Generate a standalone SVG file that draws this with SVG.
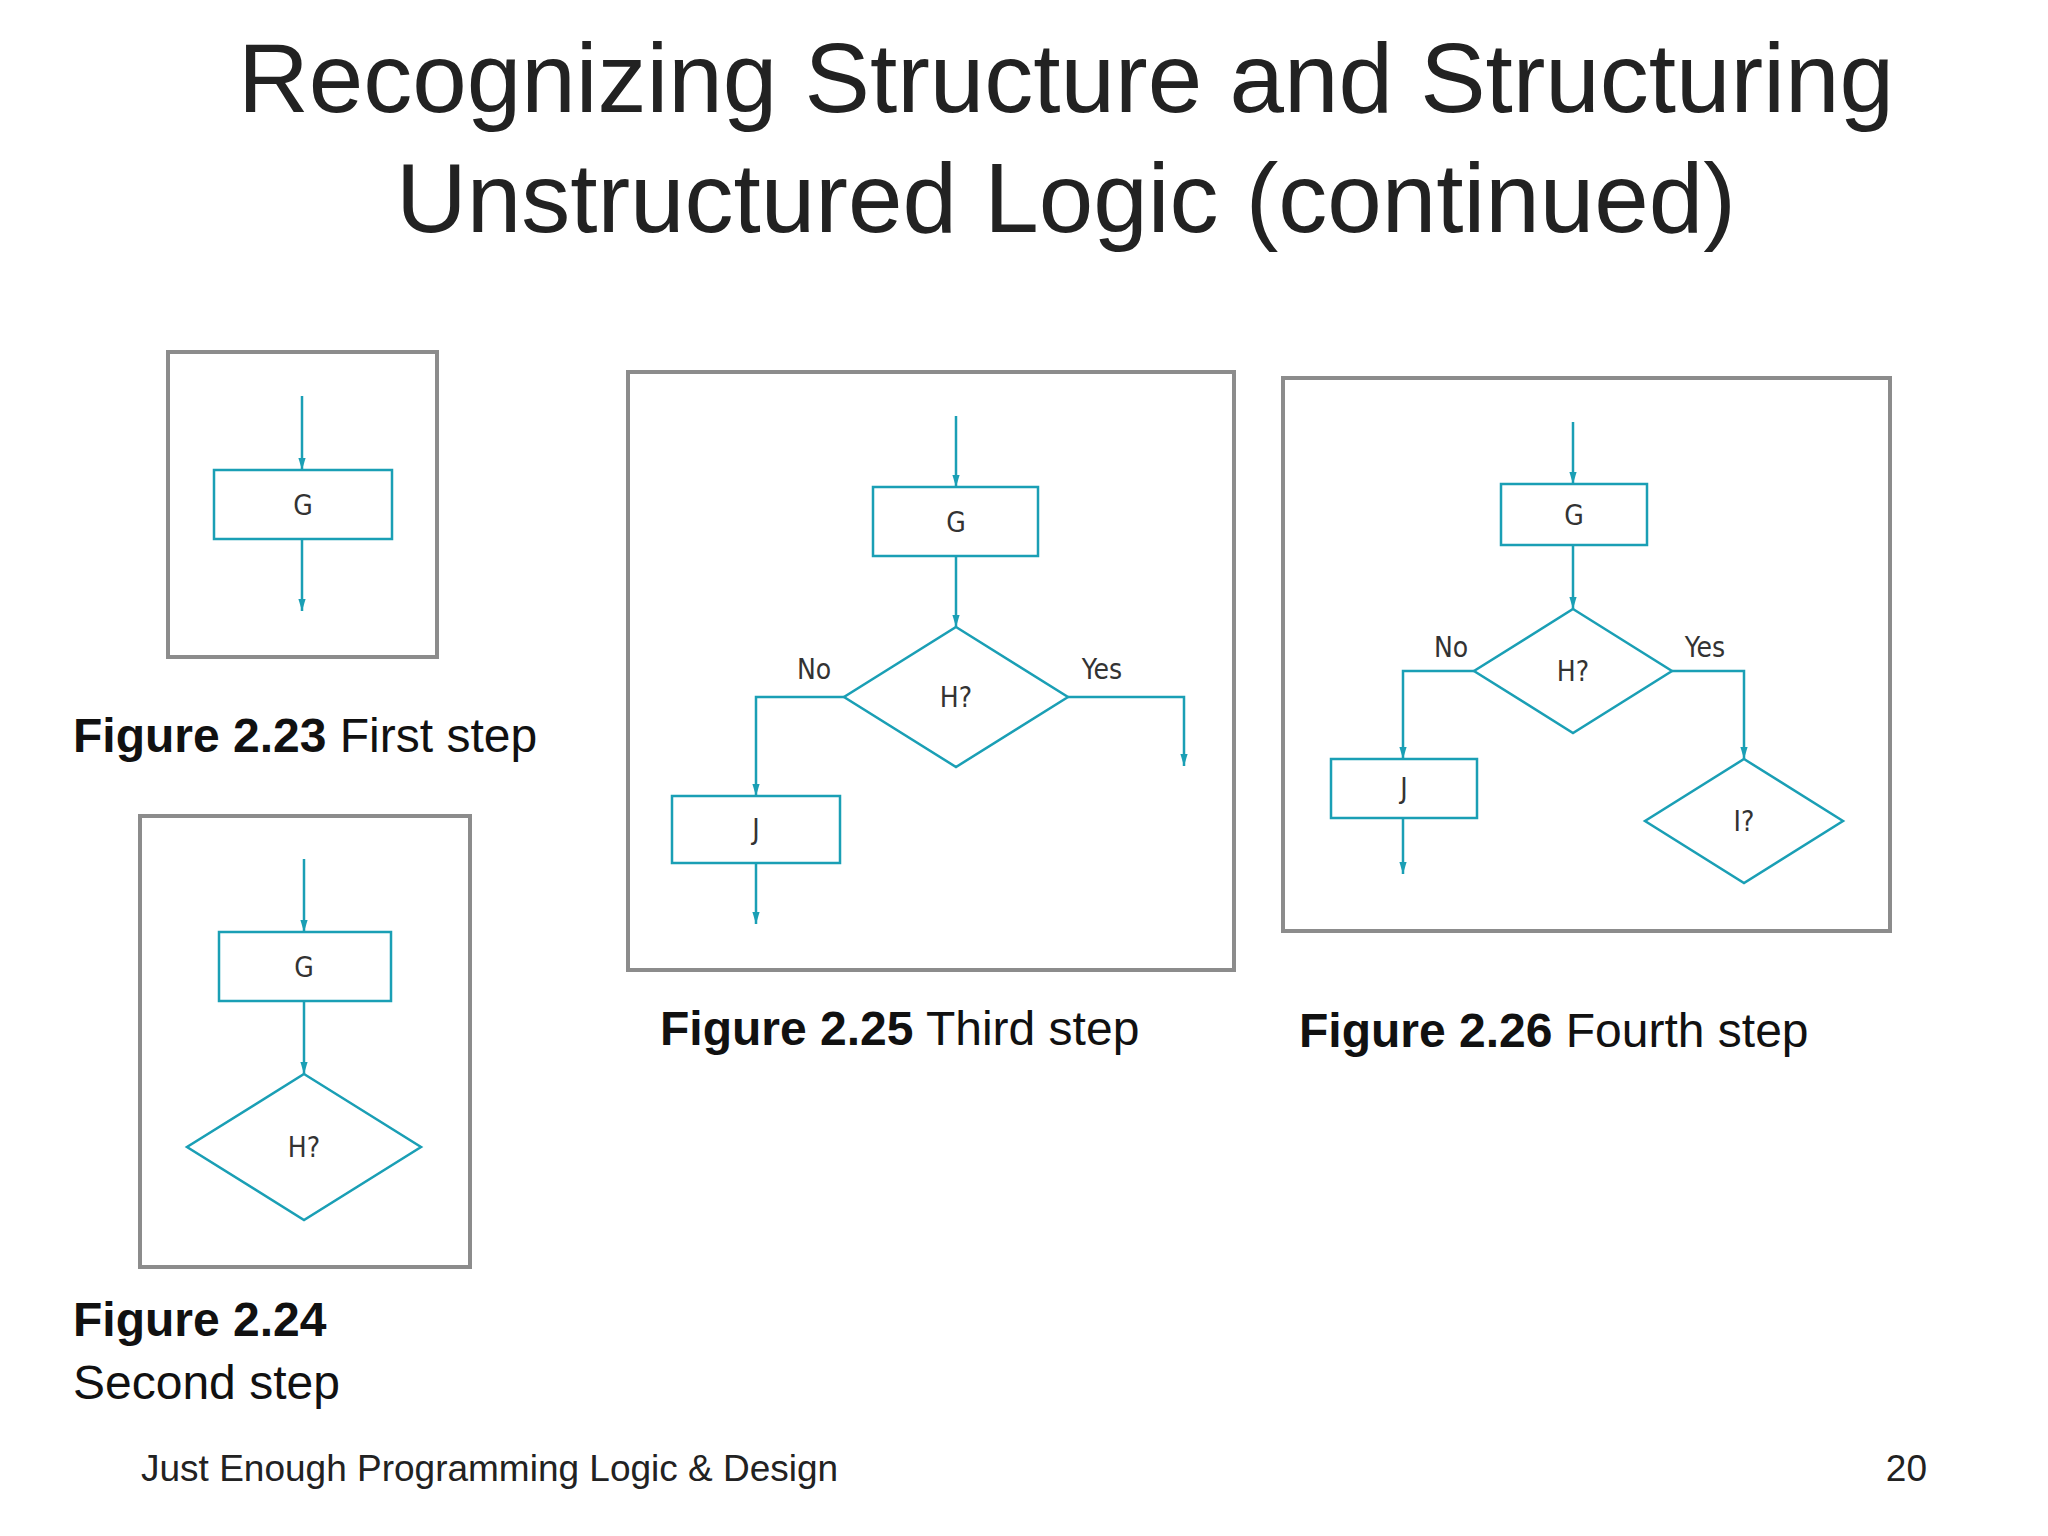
<svg xmlns="http://www.w3.org/2000/svg" width="2048" height="1536" viewBox="0 0 2048 1536">
<defs>
<marker id="ah" viewBox="0 0 10 10" refX="10" refY="5" markerWidth="12" markerHeight="12" markerUnits="userSpaceOnUse" orient="auto">
<path d="M0,2 L10,5 L0,8 Z" fill="#1a9fb5"/>
</marker>
<style>
.frame{fill:none;stroke:#8c8c8c;stroke-width:4}
.sh{fill:#fff;stroke:#1a9fb5;stroke-width:2.5}
.ln{fill:none;stroke:#1a9fb5;stroke-width:2.5;marker-end:url(#ah)}
.ft{font-family:"DejaVu Sans Condensed","DejaVu Sans",sans-serif;font-stretch:condensed;font-size:28px;fill:#333;text-anchor:middle;dominant-baseline:central}
.title{font-family:"Liberation Sans",Arial,sans-serif;font-size:98px;fill:#222;text-anchor:middle}
.cap{font-family:"Liberation Sans",Arial,sans-serif;font-size:48px;fill:#111}
.b{font-weight:bold}
.foot{font-family:"Liberation Sans",Arial,sans-serif;font-size:37px;fill:#222}
</style>
</defs>
<rect width="2048" height="1536" fill="#fff"/>
<text class="title" x="1066" y="112">Recognizing Structure and Structuring</text>
<text class="title" x="1066" y="232">Unstructured Logic (continued)</text>

<g id="fig223">
<rect class="frame" x="168" y="352" width="269" height="305"/>
<rect class="sh" x="214" y="470" width="178" height="69"/>
<text class="ft" x="303" y="505">G</text>
<text class="cap" x="73" y="752"><tspan class="b">Figure 2.23</tspan> First step</text>
</g>
<g id="fig224">
<rect class="frame" x="140" y="816" width="330" height="451"/>
<rect class="sh" x="219" y="932" width="172" height="69"/>
<text class="ft" x="304" y="967">G</text>
<polygon class="sh" points="304,1074 421,1147 304,1220 187,1147"/>
<text class="ft" x="304" y="1147">H?</text>
<text class="cap b" x="73" y="1336">Figure 2.24</text>
<text class="cap" x="73" y="1399">Second step</text>
</g>
<g id="fig225">
<rect class="frame" x="628" y="372" width="606" height="598"/>
<rect class="sh" x="873" y="487" width="165" height="69"/>
<text class="ft" x="956" y="522">G</text>
<polygon class="sh" points="956,627 1068,697 956,767 844,697"/>
<text class="ft" x="956" y="697">H?</text>
<rect class="sh" x="672" y="796" width="168" height="67"/>
<text class="ft" x="756" y="829">J</text>
<text class="ft" x="814" y="669">No</text>
<text class="ft" x="1102" y="669">Yes</text>
<text class="cap" x="660" y="1045"><tspan class="b">Figure 2.25</tspan>  Third step</text>
</g>
<g id="fig226">
<rect class="frame" x="1283" y="378" width="607" height="553"/>
<rect class="sh" x="1501" y="484" width="146" height="61"/>
<text class="ft" x="1574" y="515">G</text>
<polygon class="sh" points="1573,609 1672,671 1573,733 1474,671"/>
<text class="ft" x="1573" y="671">H?</text>
<rect class="sh" x="1331" y="759" width="146" height="59"/>
<text class="ft" x="1404" y="788">J</text>
<polygon class="sh" points="1744,759 1843,821 1744,883 1645,821"/>
<text class="ft" x="1744" y="821">I?</text>
<text class="ft" x="1451" y="647">No</text>
<text class="ft" x="1705" y="647">Yes</text>
<text class="cap" x="1299" y="1047"><tspan class="b">Figure 2.26</tspan>  Fourth step</text>
</g>
<g id="connectors">
<line class="ln" x1="302" y1="396" x2="302" y2="470"/>
<line class="ln" x1="302" y1="539" x2="302" y2="611"/>
<line class="ln" x1="304" y1="859" x2="304" y2="932"/>
<line class="ln" x1="304" y1="1001" x2="304" y2="1074"/>
<line class="ln" x1="956" y1="416" x2="956" y2="487"/>
<line class="ln" x1="956" y1="556" x2="956" y2="627"/>
<polyline class="ln" points="844,697 756,697 756,796"/>
<line class="ln" x1="756" y1="863" x2="756" y2="924"/>
<polyline class="ln" points="1068,697 1184,697 1184,766"/>
<line class="ln" x1="1573" y1="422" x2="1573" y2="484"/>
<line class="ln" x1="1573" y1="545" x2="1573" y2="609"/>
<polyline class="ln" points="1474,671 1403,671 1403,759"/>
<line class="ln" x1="1403" y1="818" x2="1403" y2="874"/>
<polyline class="ln" points="1672,671 1744,671 1744,759"/>
</g>
<text class="foot" x="141" y="1481">Just Enough Programming Logic &amp; Design</text>
<text class="foot" x="1927" y="1481" text-anchor="end">20</text>
</svg>
